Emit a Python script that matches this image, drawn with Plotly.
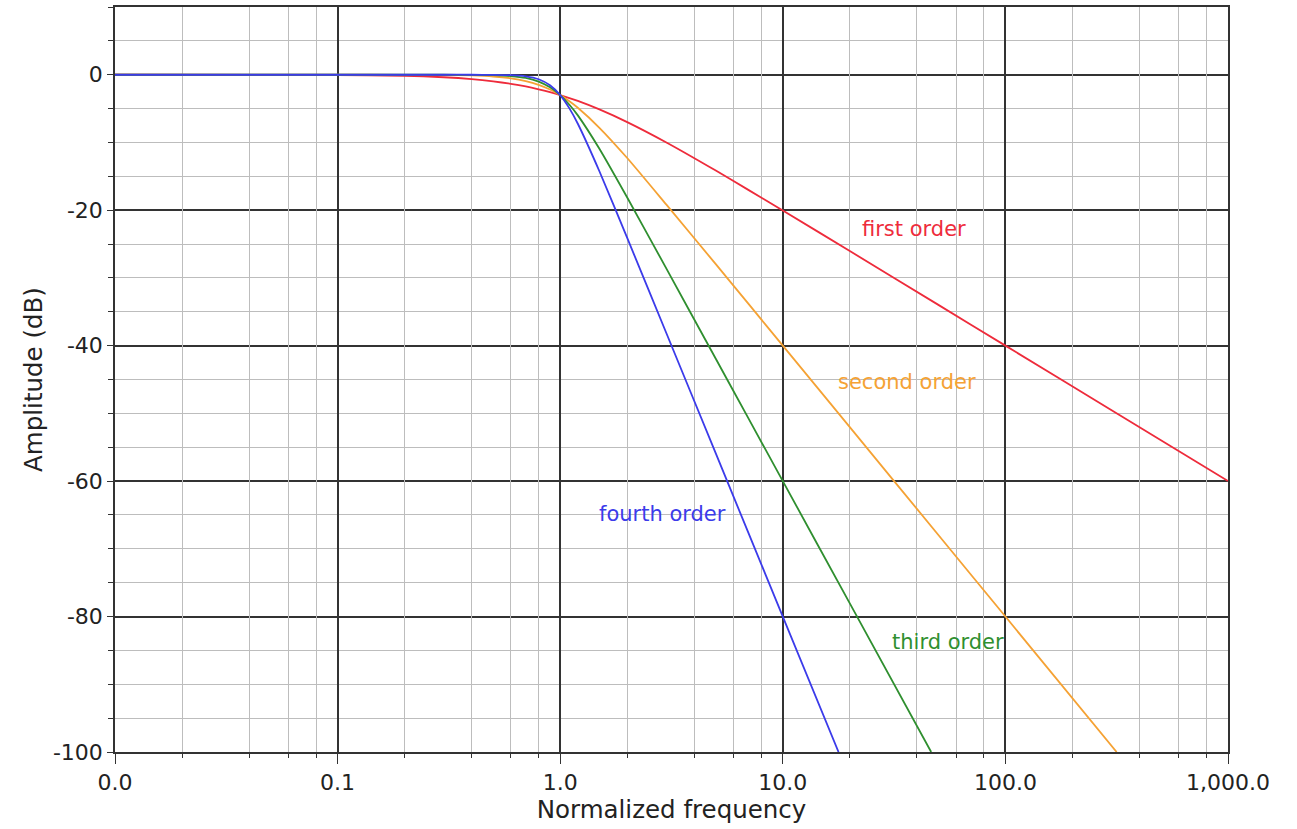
import math
import plotly.graph_objects as go

# Normalized frequency samples
freq = [0.01, 0.1, 0.2, 0.3, 0.4, 0.5, 0.6, 0.7, 0.8, 0.9, 1.0, 1.1, 1.2, 1.5, 2.0, 3.0, 5.0, 7.0, 10.0, 20.0, 50.0, 100.0, 300.0, 1000.0]
first_db = [0.0, -0.04, -0.17, -0.37, -0.64, -0.97, -1.34, -1.73, -2.15, -2.58, -3.01, -3.44, -3.87, -5.12, -6.99, -10.0, -14.15, -17.0, -20.04, -26.03, -33.98, -40.0, -49.54, -60.0]

freq2 = [0.01, 0.1, 0.2, 0.3, 0.4, 0.5, 0.6, 0.7, 0.8, 0.9, 1.0, 1.1, 1.2, 1.5, 2.0, 3.0, 5.0, 7.0, 10.0, 20.0, 50.0, 100.0, 316.0]
second_db = [0.0, 0.0, -0.01, -0.04, -0.11, -0.26, -0.53, -0.94, -1.49, -2.19, -3.01, -3.92, -4.88, -7.83, -12.3, -19.19, -27.97, -33.8, -40.0, -52.04, -67.96, -80.0, -100.0]

freq3 = [0.01, 0.1, 0.2, 0.3, 0.4, 0.5, 0.6, 0.7, 0.8, 0.9, 1.0, 1.1, 1.2, 1.5, 2.0, 3.0, 5.0, 7.0, 10.0, 20.0, 46.4]
third_db = [0.0, 0.0, 0.0, 0.0, -0.02, -0.07, -0.2, -0.48, -1.01, -1.85, -3.01, -4.43, -6.0, -10.93, -18.13, -28.63, -41.94, -50.71, -60.0, -78.06, -100.0]

freq4 = [0.01, 0.1, 0.2, 0.3, 0.4, 0.5, 0.6, 0.7, 0.8, 0.9, 1.0, 1.1, 1.2, 1.5, 2.0, 3.0, 5.0, 7.0, 10.0, 17.8]
fourth_db = [0.0, 0.0, 0.0, 0.0, 0.0, -0.02, -0.07, -0.24, -0.67, -1.56, -3.01, -4.97, -7.24, -14.25, -24.1, -38.17, -55.92, -67.61, -80.0, -100.0]

x_tickvals = [0.01, 0.1, 1, 10, 100, 1000]
x_ticktext = ["0.0", "0.1", "1.0", "10.0", "100.0", "1,000.0"]
x_minor = [m * d for d in [0.01, 0.1, 1, 10, 100] for m in [2, 4, 6, 8]]
y_tickvals = [0, -20, -40, -60, -80, -100]
y_ticktext = ["0", "-20", "-40", "-60", "-80", "-100"]

labels = ["first order", "second order", "third order", "fourth order"]
label_freq = [39.0, 36.0, 55.0, 2.87]
label_db = [-22.8, -45.3, -83.7, -64.9]
colors = ["#ee2b3b", "#f5a234", "#2f8f2f", "#3b3bea"]

fig = go.Figure()

# invisible trace to anchor the minor-grid overlay axis
fig.add_trace(go.Scatter(x=[freq[0], freq[-1]], y=[first_db[0], first_db[-1]], xaxis="x2",
                         mode="lines", line=dict(width=0), hoverinfo="skip", showlegend=False,
                         opacity=0))

series = [(freq, first_db), (freq2, second_db), (freq3, third_db), (freq4, fourth_db)]
for (xs, ys), name, c in zip(series, labels, colors):
    fig.add_trace(go.Scatter(x=xs, y=ys, mode="lines", name=name,
                             line=dict(color=c, width=1.8, shape="spline", smoothing=0.6),
                             showlegend=False))

for t, lx, ly, c in zip(labels, label_freq, label_db, colors):
    fig.add_annotation(x=math.log10(lx), y=ly, text=t, showarrow=False, xref="x", yref="y",
                       font=dict(color=c, size=21, family="DejaVu Sans"))

fig.update_layout(
    width=1297, height=829,
    margin=dict(l=115, r=69, t=5, b=77),
    paper_bgcolor="white", plot_bgcolor="white",
    font=dict(family="DejaVu Sans", color="#222", size=22),
    xaxis=dict(
        type="log", range=[-2, 3],
        tickmode="array", tickvals=x_tickvals, ticktext=x_ticktext,
        showgrid=True, gridcolor="#333", gridwidth=1.5,
        ticks="outside", ticklen=10, tickcolor="#333",
        showline=True, linecolor="#333", linewidth=1.5, mirror=True,
        zeroline=False,
        title=dict(text="Normalized frequency", font=dict(size=24.5), standoff=2),
        tickfont=dict(size=22),
    ),
    xaxis2=dict(
        type="log", range=[-2, 3], overlaying="x", side="bottom",
        tickmode="array", tickvals=x_minor, showticklabels=False,
        showgrid=True, gridcolor="#bdbdbd", gridwidth=1.3,
        ticks="outside", ticklen=5, tickcolor="#333",
        showline=False, zeroline=False,
    ),
    yaxis=dict(
        range=[-100, 10],
        tickmode="array", tickvals=y_tickvals, ticktext=y_ticktext,
        showgrid=True, gridcolor="#333", gridwidth=1.5,
        ticks="outside", ticklen=6, tickcolor="#333",
        showline=True, linecolor="#333", linewidth=1.5, mirror=True,
        zeroline=False,
        minor=dict(dtick=5, showgrid=True, gridcolor="#bdbdbd", gridwidth=1.3,
                   ticks="outside", ticklen=5, tickcolor="#333"),
        title=dict(text="Amplitude (dB)", font=dict(size=24.5), standoff=3),
        tickfont=dict(size=22),
    ),
)

fig.write_html("out.html", config={"displayModeBar": False},
               post_script="document.body.style.margin='0';")
